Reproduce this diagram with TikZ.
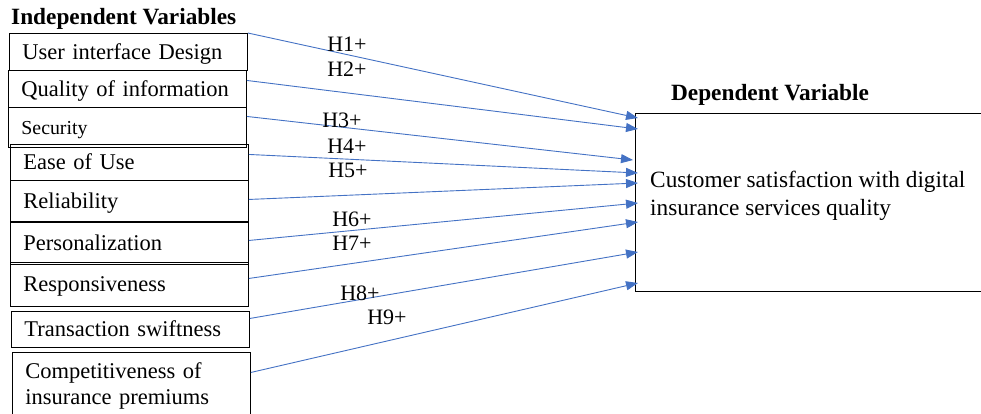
\documentclass[tikz,border=0pt]{standalone}
\usepackage{fontspec}
\setmainfont{Liberation Serif}
\usetikzlibrary{arrows.meta,calc}
\definecolor{linkblue}{RGB}{68,114,196}

\begin{document}
\begin{tikzpicture}[x=1pt,y=-1pt,>={Triangle[length=12pt,width=9pt]},
                    ivar/.style={draw,line width=0.9pt,anchor=north west,inner xsep=13pt,inner ysep=0pt,
                                 text height=19pt,text depth=4pt,
                                 text width=212pt,align=left,font=\fontsize{22.5}{26}\selectfont},
                    head/.style={inner sep=0pt,font=\fontsize{23.3}{26}\selectfont\bfseries},
                    hyp/.style={inner sep=0pt,font=\fontsize{22}{24}\selectfont},
                    link/.style={->,color=linkblue,line width=0.9pt}]

	\useasboundingbox (0,0) rectangle (981,413);

	% headings
	\node[head,anchor=west] (ivhead) at (11,19) {Independent Variables};
	\node[head] (dvhead) at (770,95) {Dependent Variable};

	% independent variables
	\node[ivar,minimum height=37pt] (ui) at (9,33) {User interface Design};
	\node[ivar,minimum height=37pt] (qi) at (8,70) {Quality of information};
	\node[ivar,minimum height=40pt,font=\fontsize{19.8}{22}\selectfont] (sec) at (8,107) {Security};
	\node[ivar,minimum height=36pt] (ease) at (10,144) {Ease of Use};
	\node[ivar,minimum height=41pt] (rel) at (10,180) {Reliability};
	\node[ivar,minimum height=42pt] (pers) at (10,222) {Personalization};
	\node[ivar,minimum height=44pt] (resp) at (10,262) {Responsiveness};
	\node[ivar,minimum height=36pt] (swift) at (11,311) {Transaction swiftness};
	\node[ivar,minimum height=68pt,text height=,text depth=] (prem) at (12,352) {Competitiveness of\\insurance premiums};

	% dependent variable
	\node[draw,line width=0.9pt,anchor=north west,inner sep=0pt,minimum width=360pt,minimum height=178pt] (dv) at (635,113) {};
	\node[anchor=west,inner sep=0pt,align=left,font=\fontsize{23.3}{28}\selectfont] (dvtext) at (650,196)
		{Customer satisfaction with digital\\insurance services quality};

	% hypotheses
	\draw[link] (ui.north east)          -- ($(dv.north west)+(3,5)$);
	\draw[link] ([yshift=8.5pt]qi.east)  -- ($(dv.north west)+(3,16)$);
	\draw[link] ([yshift=11pt]sec.east)  -- ($(dv.north west)+(-2,47)$);
	\draw[link] ([yshift=8pt]ease.east)  -- ($(dv.north west)+(3,60)$);
	\draw[link] ([yshift=1.5pt]rel.east) -- ($(dv.north west)+(3,70)$);
	\draw[link] ([yshift=3pt]pers.east)  -- ($(dv.north west)+(3,90)$);
	\draw[link] ([yshift=6pt]resp.east)  -- ($(dv.north west)+(3,109)$);
	\draw[link] ([yshift=11pt]swift.east) -- ($(dv.north west)+(3,139)$);
	\draw[link] ([yshift=14pt]prem.east) -- ($(dv.north west)+(3,170)$);

	\node[hyp] (h1) at (347,44)  {H1+};
	\node[hyp] (h2) at (347,69)  {H2+};
	\node[hyp] (h3) at (342,120) {H3+};
	\node[hyp] (h4) at (347,146) {H4+};
	\node[hyp] (h5) at (348,170) {H5+};
	\node[hyp] (h6) at (352,219) {H6+};
	\node[hyp] (h7) at (352,243) {H7+};
	\node[hyp] (h8) at (360,293) {H8+};
	\node[hyp] (h9) at (387,317) {H9+};

\end{tikzpicture}
\end{document}
